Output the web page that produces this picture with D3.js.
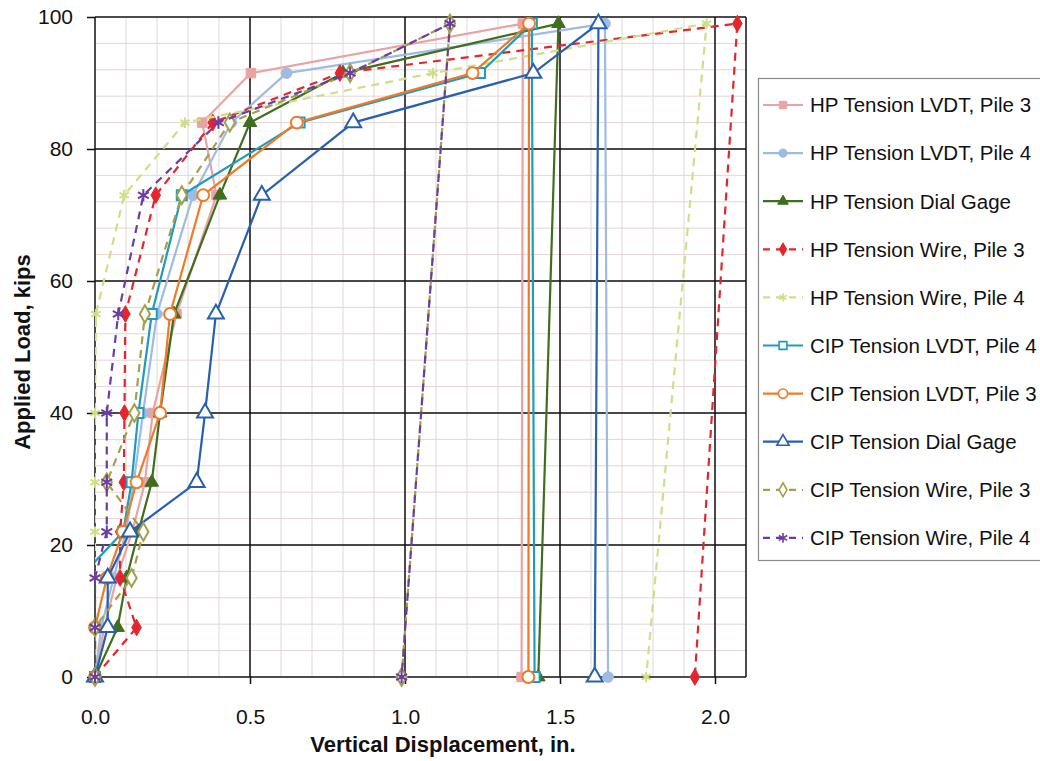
<!DOCTYPE html>
<html><head><meta charset="utf-8">
<script src="https://cdn.jsdelivr.net/npm/d3@7"></script>
<style>
body{margin:0;background:#fff;}
svg{font-family:"Liberation Sans",Arial,sans-serif;}
</style></head>
<body><svg id="c" width="1040" height="761"></svg>
<script>
// ---- data ----
const loads    = [0, 7.5, 15, 22, 29.5, 40, 55, 73, 84, 91.5, 99, 0];
const hpLvdt3  = [0, 0.03, 0.07, 0.12, 0.161, 0.186, 0.263, 0.392, 0.346, 0.503, 1.38, 1.376];
const hpLvdt4  = [0, 0.02, 0.06, 0.10, 0.125, 0.155, 0.20, 0.316, 0.44, 0.618, 1.645, 1.655];
const hpDial   = [0, 0.073, 0.102, 0.14, 0.183, 0.21, 0.255, 0.403, 0.5, 0.80, 1.495, 1.43];
const hpWire3  = [0, 0.134, 0.081, 0.081, 0.093, 0.095, 0.098, 0.196, 0.38, 0.79, 2.072, 1.935];
const hpWire4  = [0, 0, 0, 0, 0, 0, 0.003, 0.094, 0.29, 1.09, 1.973, 1.778];
const cipLvdt4 = [0, -0.02, -0.05, 0.091, 0.118, 0.14, 0.183, 0.28, 0.66, 1.242, 1.409, 1.418];
const cipLvdt3 = [0, 0, 0.038, 0.09, 0.134, 0.21, 0.242, 0.349, 0.651, 1.218, 1.40, 1.398];
const cipDial  = [0, 0.041, 0.041, 0.113, 0.328, 0.355, 0.39, 0.538, 0.833, 1.414, 1.624, 1.612];
const cipWire3 = [0, 0, 0.118, 0.156, 0.038, 0.127, 0.161, 0.28, 0.435, 0.823, 1.145, 0.989];
const cipWire4 = [0, 0, 0, 0.038, 0.038, 0.038, 0.075, 0.156, 0.398, 0.823, 1.145, 0.989];
const seriesNames = ["HP Tension LVDT, Pile 3","HP Tension LVDT, Pile 4","HP Tension Dial Gage",
  "HP Tension Wire, Pile 3","HP Tension Wire, Pile 4","CIP Tension LVDT, Pile 4",
  "CIP Tension LVDT, Pile 3","CIP Tension Dial Gage","CIP Tension Wire, Pile 3","CIP Tension Wire, Pile 4"];
const xTicks = [0, 0.5, 1.0, 1.5, 2.0];
const yTicks = [0, 20, 40, 60, 80, 100];

// ---- styles ----
const styles = [
  {c:"#e9a3a3", dash:null, sym:d3.symbolSquare, fill:true, size:90},
  {c:"#9fbbe3", dash:null, sym:d3.symbolCircle, fill:true, size:90},
  {c:"#3f6e1f", dash:null, sym:d3.symbolTriangle, fill:true, size:80},
  {c:"#e3262d", dash:"8,6", sym:d3.symbolDiamond, fill:true, size:80},
  {c:"#cfdf86", dash:"8,6", sym:d3.symbolAsterisk, fill:false, size:80},
  {c:"#1d9cc0", dash:null, sym:d3.symbolSquare, fill:false, size:100},
  {c:"#ee7b27", dash:null, sym:d3.symbolCircle, fill:false, size:110},
  {c:"#2860ae", dash:null, sym:d3.symbolTriangle, fill:false, size:110},
  {c:"#a39f4d", dash:"8,6", sym:d3.symbolDiamond, fill:false, size:90},
  {c:"#6b3da3", dash:"8,6", sym:d3.symbolAsterisk, fill:false, size:110}
];
const dataSets = [hpLvdt3, hpLvdt4, hpDial, hpWire3, hpWire4, cipLvdt4, cipLvdt3, cipDial, cipWire3, cipWire4];

const svg = d3.select("#c");
const x = d3.scaleLinear([0, 2.1], [95, 746]);
const y = d3.scaleLinear([0, 100], [677, 17]);

svg.append("clipPath").attr("id", "plot").append("rect")
  .attr("x", x(0)).attr("y", y(100)).attr("width", x(2.1) - x(0)).attr("height", y(0) - y(100));

// minor grid
const g = svg.append("g");
g.selectAll(".mx").data(d3.range(1, 21).map(i => i / 10)).join("line")
  .attr("x1", d => x(d)).attr("x2", d => x(d)).attr("y1", y(0)).attr("y2", y(100))
  .attr("stroke", "#e4d6d6").attr("stroke-width", 1);
g.selectAll(".my").data(d3.range(4, 100, 4)).join("line")
  .attr("x1", x(0)).attr("x2", x(2.1)).attr("y1", d => y(d)).attr("y2", d => y(d))
  .attr("stroke", "#e4d6d6").attr("stroke-width", 1);
// major grid
g.selectAll(".Mx").data(xTicks.concat([2.1])).join("line")
  .attr("x1", d => x(d)).attr("x2", d => x(d)).attr("y1", y(0)).attr("y2", y(100))
  .attr("stroke", "#111").attr("stroke-width", 1.5);
g.selectAll(".My").data(yTicks).join("line")
  .attr("x1", x(0)).attr("x2", x(2.1)).attr("y1", d => y(d)).attr("y2", d => y(d))
  .attr("stroke", "#111").attr("stroke-width", 1.5);

// axes
const ax = svg.append("g").attr("transform", `translate(0,${y(0)})`)
  .call(d3.axisBottom(x).tickValues(xTicks).tickFormat(d3.format(".1f")).tickSize(7).tickPadding(25));
const ay = svg.append("g").attr("transform", `translate(${x(0)},0)`)
  .call(d3.axisLeft(y).tickValues(yTicks).tickSize(8).tickPadding(14));
[ax, ay].forEach(a => {
  a.select(".domain").remove();
  a.selectAll("line").attr("stroke", "#111").attr("stroke-width", 1.5);
  a.selectAll("text").attr("font-size", 21).attr("fill", "#111")
    .attr("font-family", '"Liberation Sans",Arial,sans-serif');
});

svg.append("text").attr("x", 443).attr("y", 752).attr("text-anchor", "middle")
  .attr("font-size", 22).attr("font-weight", "bold").attr("fill", "#111")
  .text("Vertical Displacement, in.");
svg.append("text").attr("transform", `translate(30,${(y(0) + y(100)) / 2 + 5}) rotate(-90)`)
  .attr("text-anchor", "middle").attr("font-size", 22).attr("font-weight", "bold").attr("fill", "#111")
  .text("Applied Load, kips");

// series
const line = d3.line().x(d => x(d[0])).y(d => y(d[1]));
dataSets.forEach((D, i) => {
  const st = styles[i];
  const pts = D.map((d, k) => [d, loads[k]]);
  svg.append("path").attr("d", line(pts)).attr("fill", "none")
    .attr("clip-path", "url(#plot)")
    .attr("stroke", st.c).attr("stroke-width", 2.2)
    .attr("stroke-dasharray", st.dash);
  const sym = d3.symbol().type(st.sym).size(st.size);
  svg.append("g").selectAll("path").data(pts.filter(p => p[0] >= 0)).join("path")
    .attr("transform", d => `translate(${x(d[0])},${y(d[1])})`)
    .attr("d", sym())
    .attr("fill", st.fill ? st.c : (st.sym === d3.symbolAsterisk ? "none" : "#fff"))
    .attr("stroke", st.c).attr("stroke-width", st.fill ? 1 : 2);
});

// legend
const lg = svg.append("g");
lg.append("rect").attr("x", 758.5).attr("y", 78.5).attr("width", 300).attr("height", 482)
  .attr("fill", "#fff").attr("stroke", "#8a8a8a").attr("stroke-width", 1.2);
seriesNames.forEach((n, i) => {
  const st = styles[i];
  const yy = 105 + i * 48.1;
  lg.append("line").attr("x1", 763).attr("x2", 803).attr("y1", yy).attr("y2", yy)
    .attr("stroke", st.c).attr("stroke-width", 2.2).attr("stroke-dasharray", st.dash ? "7,6" : null);
  lg.append("path").attr("transform", `translate(783,${yy})`)
    .attr("d", d3.symbol().type(st.sym).size(st.size * 0.6)())
    .attr("fill", st.fill ? st.c : (st.sym === d3.symbolAsterisk ? "none" : "#fff"))
    .attr("stroke", st.c).attr("stroke-width", st.fill ? 1 : 1.6);
  lg.append("text").attr("x", 810).attr("y", yy).attr("dy", "0.36em")
    .attr("font-size", 20.5).attr("fill", "#111").text(n);
});
</script></body></html>
